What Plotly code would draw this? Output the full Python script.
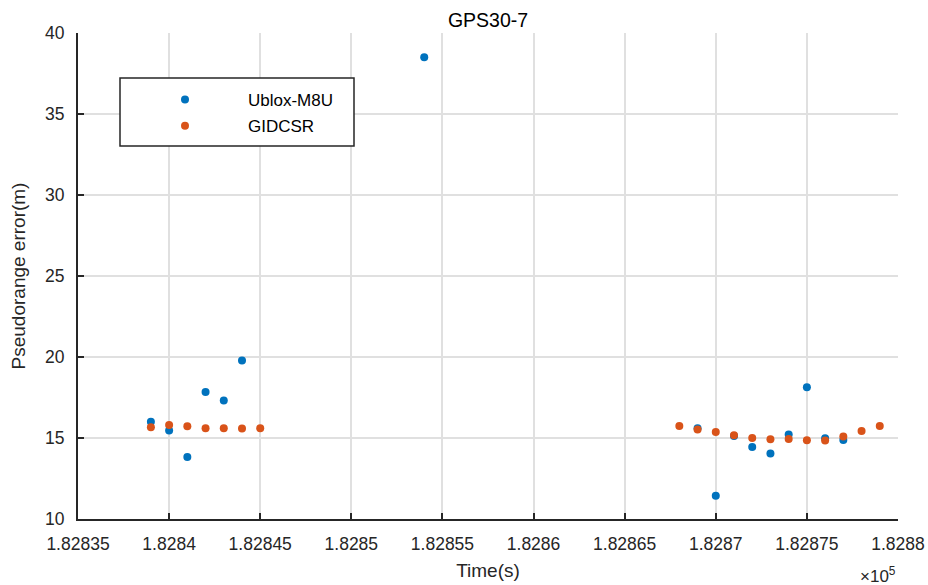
import plotly.graph_objects as go

# Epoch times (s) and pseudorange errors (m) for GPS PRN 30
ublox_t = [182839, 182840, 182841, 182842, 182843, 182844, 182854,
           182869, 182870, 182871, 182872, 182873, 182874, 182875, 182876, 182877]
ublox_err = [16.0, 15.47, 13.83, 17.84, 17.31, 19.78, 38.5,
             15.6, 11.44, 15.12, 14.45, 14.04, 15.21, 18.13, 14.98, 14.88]

gidcsr_t = [182839, 182840, 182841, 182842, 182843, 182844, 182845,
            182868, 182869, 182870, 182871, 182872, 182873, 182874, 182875,
            182876, 182877, 182878, 182879]
gidcsr_err = [15.66, 15.80, 15.72, 15.60, 15.60, 15.58, 15.60,
              15.74, 15.52, 15.37, 15.17, 15.00, 14.92, 14.94, 14.86,
              14.84, 15.10, 15.43, 15.74]

x_ticks = [182835, 182840, 182845, 182850, 182855, 182860, 182865, 182870, 182875, 182880]
x_tick_text = ["1.82835", "1.8284", "1.82845", "1.8285", "1.82855",
               "1.8286", "1.82865", "1.8287", "1.82875", "1.8288"]
y_ticks = [10, 15, 20, 25, 30, 35, 40]

FONT = "Liberation Sans, Arial, Helvetica, sans-serif"
INK = "#262626"

# plot area in pixels
L, R, T, B = 78, 898, 33, 519
W, H = 928, 585
PW, PH = R - L, B - T

# legend frame in pixels
LEG_X0, LEG_X1, LEG_Y0, LEG_Y1 = 120, 354, 78, 146


def px_x(p):
    return (p - L) / PW


def px_y(p):
    return 1 - (p - T) / PH


fig = go.Figure()
fig.add_trace(go.Scatter(
    x=ublox_t, y=ublox_err, mode="markers", name="Ublox-M8U", legendgroup="a",
    marker=dict(color="#0072BD", size=8, line=dict(width=0)),
))
fig.add_trace(go.Scatter(
    x=gidcsr_t, y=gidcsr_err, mode="markers", name="GIDCSR", legendgroup="b",
    marker=dict(color="#D95319", size=8, line=dict(width=0)),
))

axis_common = dict(
    showgrid=True, gridcolor="#e0e0e0", gridwidth=1.5,
    showline=True, linecolor=INK, linewidth=2,
    ticks="inside", ticklen=6, tickwidth=2, tickcolor=INK,
    zeroline=False, mirror=False, automargin=False,
    tickfont=dict(family=FONT, size=17.5, color=INK),
)

fig.update_layout(
    width=W, height=H, autosize=False,
    margin=dict(l=L, r=W - R, t=T, b=H - B, pad=0),
    paper_bgcolor="white", plot_bgcolor="white",
    font=dict(family=FONT, color=INK),
    title=dict(text="GPS30-7", x=(L + R) / 2 / W, xanchor="center",
               y=1 - 20.5 / H, yanchor="middle",
               font=dict(family=FONT, size=19.5, color="#000000")),
    xaxis=dict(range=[182835, 182880], tickvals=x_ticks, ticktext=x_tick_text,
               title=dict(text="Time(s)", font=dict(family=FONT, size=19, color=INK),
                          standoff=11),
               ticklabelstandoff=8, **axis_common),
    yaxis=dict(range=[10, 40], tickvals=y_ticks,
               title=dict(text="Pseudorange error(m)", font=dict(family=FONT, size=19, color=INK),
                          standoff=14),
               ticklabelstandoff=8, **axis_common),
    legend=dict(
        x=px_x(LEG_X0 + 2), y=px_y(LEG_Y0 + 4), xanchor="left", yanchor="top",
        bgcolor="rgba(0,0,0,0)", borderwidth=0,
        font=dict(family=FONT, size=17, color="#000000"),
        itemwidth=116, tracegroupgap=1,
    ),
    showlegend=True,
)

# legend frame: white box with a dark border, drawn over the grid
fig.add_shape(
    type="rect", xref="paper", yref="paper",
    x0=px_x(LEG_X0), x1=px_x(LEG_X1), y0=px_y(LEG_Y1), y1=px_y(LEG_Y0),
    fillcolor="white", line=dict(color=INK, width=1.5), layer="above",
)

fig.add_annotation(
    text="×10<sup>5</sup>", xref="paper", yref="paper",
    x=1.0, y=-(575 - B) / PH, xanchor="right", yanchor="middle", showarrow=False,
    font=dict(family=FONT, size=17, color=INK),
)

fig.write_html("out.html")
